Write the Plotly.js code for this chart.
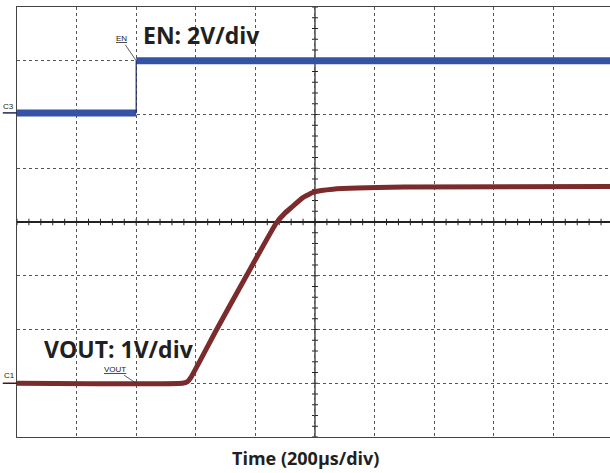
<!DOCTYPE html>
<html>
<head>
<meta charset="utf-8">
<script src="https://cdn.plot.ly/plotly-3.0.1.min.js"></script>
<style>html,body{margin:0;padding:0;background:#fff;}#chart{width:610px;height:473px;}</style>
</head>
<body>
<div id="chart"></div>
<script>
// Time in µs (200 µs/div), amplitude in screen divisions
const enTime = [0, 400, 400, 1990];
const enValue = [2.03, 2.03, 3.0, 3.0];

const voutTime  = [0, 555, 572, 585, 670, 770, 870, 900, 925, 958, 998, 1060, 1300, 1990];
const voutValue = [-3.0, -3.0, -2.97, -2.88, -2.0, -1.0, -0.02, 0.17, 0.29, 0.45, 0.56, 0.61, 0.65, 0.66];

const enLabel = 'EN: 2V/div';
const voutLabel = 'VOUT: 1V/div';
const xLabel = 'Time (200µs/div)';

const blue = '#3553a6';
const red = '#7b2b2b';

const traces = [
  {x: enTime.slice(0, 2), y: enValue.slice(0, 2), mode: 'lines', line: {color: blue, width: 7}, hoverinfo: 'skip'},
  {x: enTime.slice(2), y: enValue.slice(2), mode: 'lines', line: {color: blue, width: 7}, hoverinfo: 'skip'},
  {x: enTime.slice(1, 3), y: enValue.slice(1, 3), mode: 'lines', line: {color: '#1c2a5a', width: 1.2}, hoverinfo: 'skip'},
  {x: voutTime, y: voutValue, mode: 'lines', line: {color: red, width: 5, shape: 'spline', smoothing: 0.4}, hoverinfo: 'skip'}
];

const shapes = [];
// center vertical line
shapes.push({type: 'line', xref: 'x', yref: 'paper', x0: 1000, x1: 1000, y0: 0, y1: 1,
  line: {color: '#222', width: 1.2}, layer: 'below'});
// minor ticks on horizontal center line
for (let t = 0; t <= 1990; t += 40) {
  shapes.push({type: 'line', xref: 'x', yref: 'y', x0: t, x1: t, y0: -0.06, y1: 0.06,
    line: {color: '#222', width: 1}, layer: 'below'});
}
// minor ticks on vertical center line
for (let k = -20; k <= 20; k++) {
  const v = k * 0.2;
  shapes.push({type: 'line', xref: 'x', yref: 'y', x0: 990, x1: 1010, y0: v, y1: v,
    line: {color: '#222', width: 1}, layer: 'below'});
}
// channel ground markers
shapes.push({type: 'line', xref: 'paper', yref: 'y', x0: -0.024, x1: 0, y0: 2.03, y1: 2.03,
  line: {color: '#1c2a5a', width: 1.5}});
shapes.push({type: 'line', xref: 'paper', yref: 'y', x0: -0.024, x1: 0, y0: -3.0, y1: -3.0,
  line: {color: '#4a1515', width: 1.5}});

const bigFont = {family: 'Open Sans, Noto Sans, sans-serif', size: 23, color: '#231f20'};
const smallFont = {family: 'Liberation Sans, Arial, sans-serif', size: 8, color: '#222'};

const annotations = [
  {x: 618, y: 3.48, xref: 'x', yref: 'y', text: '<b>' + enLabel + '</b>', showarrow: false, font: bigFont, xanchor: 'center', yanchor: 'middle'},
  {x: 342, y: -2.36, xref: 'x', yref: 'y', text: '<b>' + voutLabel + '</b>', showarrow: false, font: bigFont, xanchor: 'center', yanchor: 'middle'},
  {x: 0.487, y: -0.049, xref: 'paper', yref: 'paper', text: '<b>' + xLabel + '</b>', showarrow: false,
    font: {family: 'Open Sans, Noto Sans, sans-serif', size: 18, color: '#231f20'}, xanchor: 'center', yanchor: 'middle'},
  {x: 400, y: 3.0, xref: 'x', yref: 'y', text: '<u>EN</u>', showarrow: true, arrowhead: 0, arrowwidth: 0.8, arrowcolor: '#333',
    ax: -15, ay: -22, font: smallFont, standoff: 0},
  {x: 400, y: -3.0, xref: 'x', yref: 'y', text: '<u>VOUT</u>', showarrow: true, arrowhead: 0, arrowwidth: 0.8, arrowcolor: '#333',
    ax: -21, ay: -14, font: smallFont, standoff: 0},
  {x: -0.015, y: 2.15, xref: 'paper', yref: 'y', text: 'C3', showarrow: false, font: smallFont, xanchor: 'center', yanchor: 'middle'},
  {x: -0.012, y: -2.86, xref: 'paper', yref: 'y', text: 'C1', showarrow: false, font: smallFont, xanchor: 'center', yanchor: 'middle'}
];

const layout = {
  width: 610, height: 473,
  margin: {l: 17, r: 0, t: 7, b: 36, pad: 0},
  paper_bgcolor: '#ffffff', plot_bgcolor: '#ffffff',
  showlegend: false,
  xaxis: {range: [0, 1990], dtick: 200, tick0: 0, showgrid: true, griddash: 'dot', gridcolor: '#555', gridwidth: 1,
    showticklabels: false, ticks: '', zeroline: false, showline: true, linecolor: '#444', linewidth: 1, mirror: true, fixedrange: true},
  yaxis: {range: [-4, 4], dtick: 1, tick0: 0, showgrid: true, griddash: 'dot', gridcolor: '#555', gridwidth: 1,
    showticklabels: false, ticks: '', zeroline: true, zerolinecolor: '#222', zerolinewidth: 1.2,
    showline: true, linecolor: '#444', linewidth: 1, fixedrange: true},
  shapes: shapes,
  annotations: annotations
};

Plotly.newPlot('chart', traces, layout, {staticPlot: true, displayModeBar: false});
</script>
</body>
</html>
